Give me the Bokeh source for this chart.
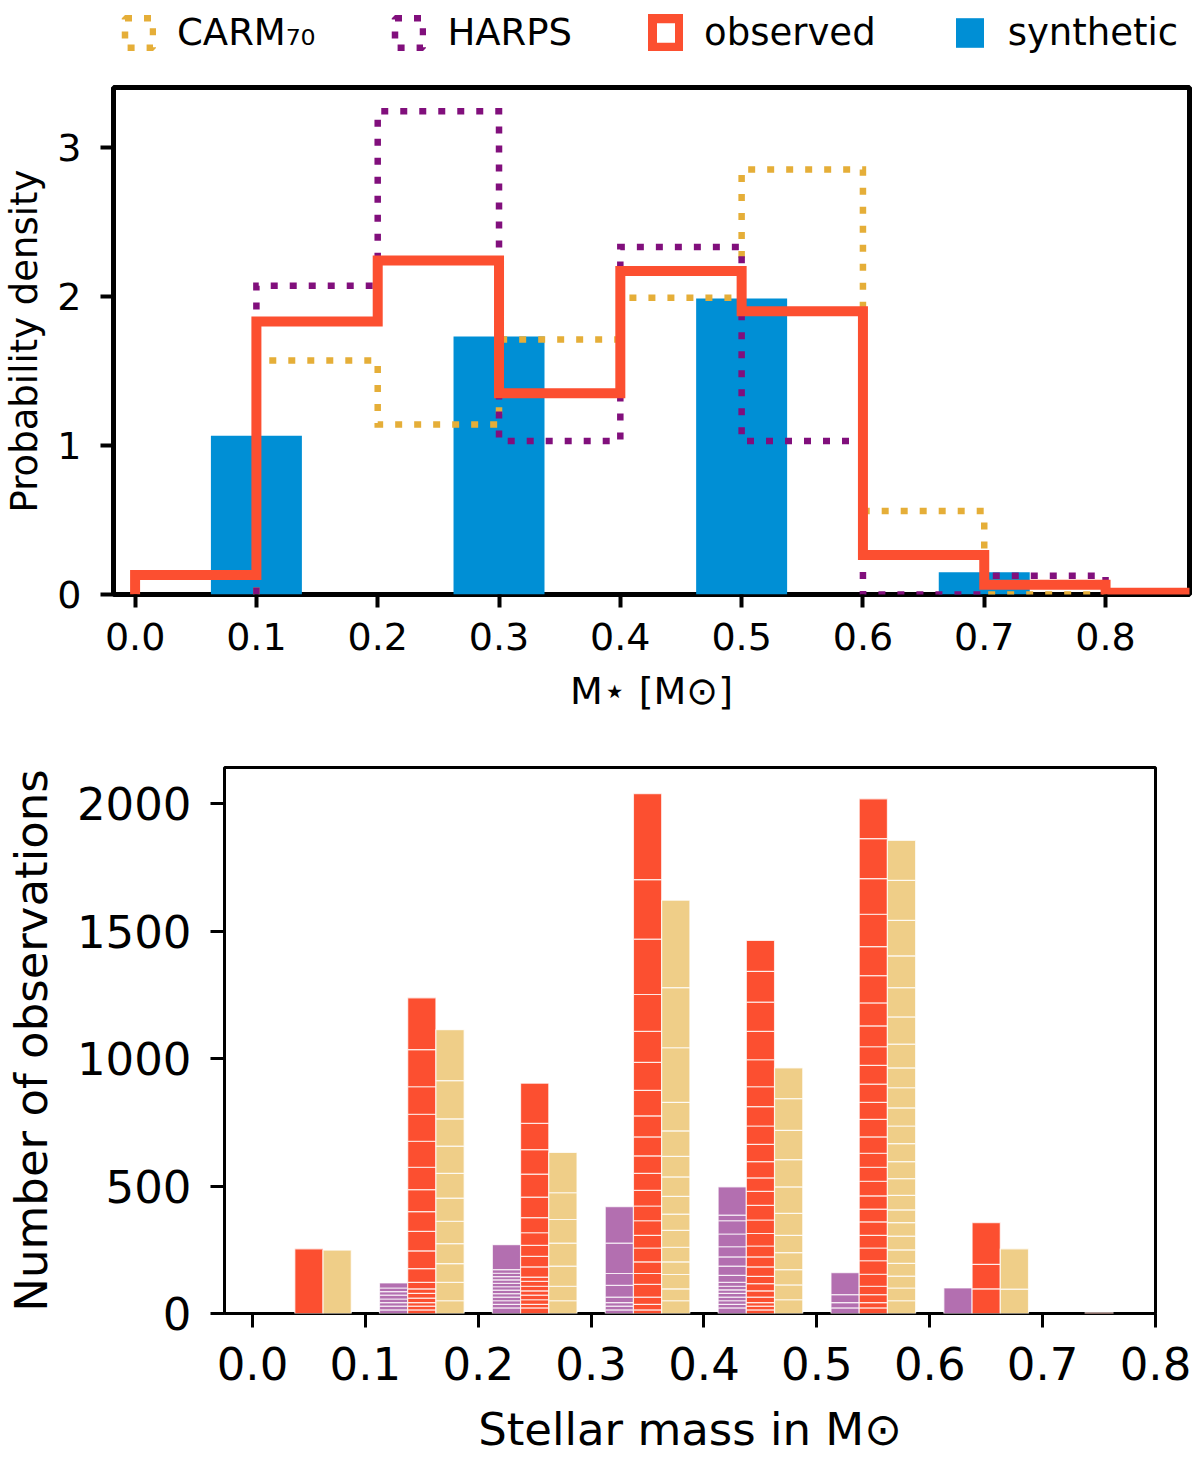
from bokeh.embed import file_html
from bokeh.layouts import column, row
from bokeh.models import FixedTicker, Legend, LegendItem, Range1d
from bokeh.plotting import figure
from bokeh.resources import INLINE

# ---------- colours ----------
BLUE = "#008fd5"
RED = "#fc4f30"
YELLOW = "#e5ae38"
PURPLE = "#810f7c"
FONT = "DejaVu Sans"

# ---------- top panel: normalised histograms (bin width 0.1) ----------
obs_edges = [0.0, 0.1, 0.2, 0.3, 0.4, 0.5, 0.6, 0.7, 0.8, 0.9]
obs_density = [0.13, 1.83, 2.24, 1.35, 2.17, 1.90, 0.265, 0.065, 0.012]

carm_edges = [0.1, 0.2, 0.3, 0.4, 0.5, 0.6, 0.7, 0.8]
carm_density = [1.57, 1.14, 1.71, 1.99, 2.85, 0.56, 0.0]

harps_edges = [0.1, 0.2, 0.3, 0.4, 0.5, 0.6, 0.7, 0.8]
harps_density = [2.07, 3.24, 1.03, 2.33, 1.03, 0.0, 0.125]

syn_mass = [0.1, 0.3, 0.5, 0.7]
syn_density = [1.065, 1.73, 1.985, 0.15]

top_xticks = [0.0, 0.1, 0.2, 0.3, 0.4, 0.5, 0.6, 0.7, 0.8]
top_xlabels = ["0.0", "0.1", "0.2", "0.3", "0.4", "0.5", "0.6", "0.7", "0.8"]
top_yticks = [0, 1, 2, 3]

# ---------- bottom panel: stacked counts per bin ----------
bin_left = [0.0, 0.1, 0.2, 0.3, 0.4, 0.5, 0.6, 0.7]
# cumulative levels of the stacked segments in each bin
harps_levels = [
    [],
    [120, 100, 86, 72, 57, 43, 29, 14],
    [270, 172, 158, 145, 132, 118, 105, 92, 78, 64, 50, 36, 22],
    [419, 276, 157, 110, 64, 43, 29, 14],
    [497, 386, 364, 312, 262, 222, 186, 150, 122, 107, 93, 79, 64, 50, 36, 22],
    [160, 74, 43, 22],
    [100],
    [],
]
obs_levels = [
    [254],
    [1239, 1036, 890, 782, 676, 574, 486, 400, 322, 246, 176, 122, 97, 79, 60, 43, 29, 14],
    [904, 746, 643, 547, 457, 376, 317, 267, 224, 183, 143, 126, 107, 89, 72, 54, 36, 22],
    [2040, 1703, 1469, 1252, 1107, 986, 876, 776, 693, 619, 550, 483, 422, 364, 307,
     257, 203, 157, 114, 64, 36, 14],
    [1464, 1343, 1222, 1107, 996, 890, 812, 736, 664, 596, 532, 479, 424, 367, 314,
     265, 222, 183, 146, 117, 89, 64, 43, 29, 14],
    [2020, 1864, 1707, 1567, 1440, 1326, 1219, 1129, 1047, 974, 900, 829, 762, 693,
     629, 574, 519, 462, 410, 360, 307, 257, 207, 154, 107, 74, 43, 22],
    [357, 193, 97],
    [3],
]
carm_levels = [
    [249],
    [1114, 914, 764, 657, 550, 453, 362, 274, 196, 122, 50],
    [632, 474, 369, 276, 186, 107, 50],
    [1622, 1279, 1043, 829, 717, 617, 536, 460, 390, 326, 260, 203, 153, 97, 50],
    [964, 843, 719, 604, 497, 393, 307, 239, 172, 112, 54],
    [1857, 1700, 1543, 1404, 1279, 1164, 1057, 964, 886, 807, 736, 667, 596, 529,
     464, 407, 357, 304, 250, 197, 147, 100, 50],
    [254, 96],
    [],
]

bot_xticks = [0.0, 0.1, 0.2, 0.3, 0.4, 0.5, 0.6, 0.7, 0.8]
bot_xlabels = ["0.0", "0.1", "0.2", "0.3", "0.4", "0.5", "0.6", "0.7", "0.8"]
bot_yticks = [0, 500, 1000, 1500, 2000]


def step_path(edges, heights):
    xs, ys = [edges[0]], [0.0]
    for i, h in enumerate(heights):
        xs += [edges[i], edges[i + 1]]
        ys += [h, h]
    xs.append(edges[-1])
    ys.append(0.0)
    return xs, ys


def segments(levels, offset):
    xs, bots, tops = [], [], []
    for left, lv in zip(bin_left, levels):
        lv = sorted(lv)
        prev = 0
        for t in lv:
            xs.append(left + offset)
            bots.append(prev)
            tops.append(t)
            prev = t
    return xs, bots, tops


def style_axes(p, size, tick_w, tick_out, lab_off, axlab_off):
    for ax in (p.xaxis, p.yaxis):
        ax.axis_line_color = None
        ax.major_tick_line_color = "black"
        ax.major_tick_line_width = tick_w
        ax.major_tick_out = tick_out
        ax.major_tick_in = 0
        ax.minor_tick_line_color = None
        ax.major_label_text_font = FONT
        ax.major_label_text_font_size = size
        ax.major_label_text_color = "black"
        ax.major_label_standoff = lab_off
        ax.axis_label_text_font = FONT
        ax.axis_label_text_font_size = size
        ax.axis_label_text_font_style = "normal"
        ax.axis_label_text_color = "black"
        ax.axis_label_standoff = axlab_off
    p.grid.visible = False


# ================= legend strip =================
leg = figure(
    width=1196, height=60, x_range=Range1d(0, 1), y_range=Range1d(0, 1),
    x_axis_location=None, y_axis_location=None,
    output_backend="svg", toolbar_location=None,
    min_border_left=0, min_border_right=0, min_border_top=0, min_border_bottom=0,
)
leg.outline_line_color = None
leg.grid.visible = False

# hidden copies of the series, used only for their legend keys
carm_key = leg.quad(left=carm_edges[:-1], right=carm_edges[1:], bottom=0, top=carm_density,
                    fill_color=None, line_color=YELLOW, line_width=6.5, line_dash="7 12",
                    visible=False)
harps_key = leg.quad(left=harps_edges[:-1], right=harps_edges[1:], bottom=0, top=harps_density,
                     fill_color=None, line_color=PURPLE, line_width=6.5, line_dash="7 12",
                     visible=False)
obs_key = leg.quad(left=obs_edges[:-1], right=obs_edges[1:], bottom=0, top=obs_density,
                   fill_color=None, line_color=RED, line_width=10, line_join="miter",
                   visible=False)
syn_key = leg.vbar(x=syn_mass, top=syn_density, width=0.075, bottom=0,
                   fill_color=BLUE, line_color=None, visible=False)

legend = Legend(
    items=[
        LegendItem(label="CARM₇₀", renderers=[carm_key]),
        LegendItem(label="HARPS", renderers=[harps_key]),
        LegendItem(label="observed", renderers=[obs_key]),
        LegendItem(label="synthetic", renderers=[syn_key]),
    ],
    orientation="horizontal", location=(121, 6),
    glyph_width=35, glyph_height=37, label_standoff=21, spacing=76,
    padding=0, margin=0, border_line_color=None, background_fill_alpha=0,
    inactive_fill_alpha=0, click_policy="none",
    label_text_font=FONT, label_text_font_size="37px", label_text_color="black",
)
leg.add_layout(legend)

# ================= top figure =================
top = figure(
    width=1196, height=683,
    x_range=Range1d(-0.0178, 0.8692), y_range=Range1d(0, 3.40),
    output_backend="svg", toolbar_location=None,
    min_border_left=113, min_border_right=7, min_border_top=27, min_border_bottom=149,
    background_fill_color="white", border_fill_color="white",
)
top.outline_line_color = "black"
top.outline_line_width = 5

top.vbar(x=syn_mass, top=syn_density, width=0.075, bottom=0,
         fill_color=BLUE, line_color=None)

cx, cy = step_path(carm_edges, carm_density)
top.line(cx, cy, line_color=YELLOW, line_width=6.5, line_dash="7 12", line_join="miter")
hx, hy = step_path(harps_edges, harps_density)
top.line(hx, hy, line_color=PURPLE, line_width=6.5, line_dash="7 12", line_join="miter")
ox, oy = step_path(obs_edges, obs_density)
top.line(ox, oy, line_color=RED, line_width=10, line_join="miter")

style_axes(top, "38px", 4, 13, 15, 16)
top.yaxis.axis_label_text_font_size = "37px"
top.yaxis.major_label_standoff = 19
top.yaxis.axis_label_standoff = 8
top.xaxis.ticker = FixedTicker(ticks=top_xticks)
top.xaxis.major_label_overrides = dict(zip(top_xticks, top_xlabels))
top.yaxis.ticker = FixedTicker(ticks=top_yticks)
top.xaxis.axis_label = "M⋆ [M⊙]"
top.yaxis.axis_label = "Probability density"

# ================= bottom figure =================
bot = figure(
    width=1196, height=715,
    x_range=Range1d(-0.0248, 0.8), y_range=Range1d(0, 2143),
    output_backend="svg", toolbar_location=None,
    min_border_left=224, min_border_right=41, min_border_top=24, min_border_bottom=145,
    background_fill_color="white", border_fill_color="white",
)
bot.outline_line_color = "black"
bot.outline_line_width = 3

for levels, offset, colour in (
    (harps_levels, 0.025, "#b36fb0"),
    (obs_levels, 0.05, RED),
    (carm_levels, 0.075, "#efce88"),
):
    sx, sb, st = segments(levels, offset)
    bot.vbar(x=sx, bottom=sb, top=st, width=0.025, fill_color=colour,
             line_color="white", line_width=1.2, line_alpha=0.75)

style_axes(bot, "45px", 3, 14, 19, 20)
bot.yaxis.major_label_standoff = 19
bot.yaxis.axis_label_standoff = 16
bot.xaxis.ticker = FixedTicker(ticks=bot_xticks)
bot.xaxis.major_label_overrides = dict(zip(bot_xticks, bot_xlabels))
bot.yaxis.ticker = FixedTicker(ticks=bot_yticks)
bot.xaxis.axis_label = "Stellar mass in M⊙"
bot.yaxis.axis_label = "Number of observations"

p = column(row(leg), row(top), row(bot))
open("out.html", "w").write(file_html(p, INLINE))
